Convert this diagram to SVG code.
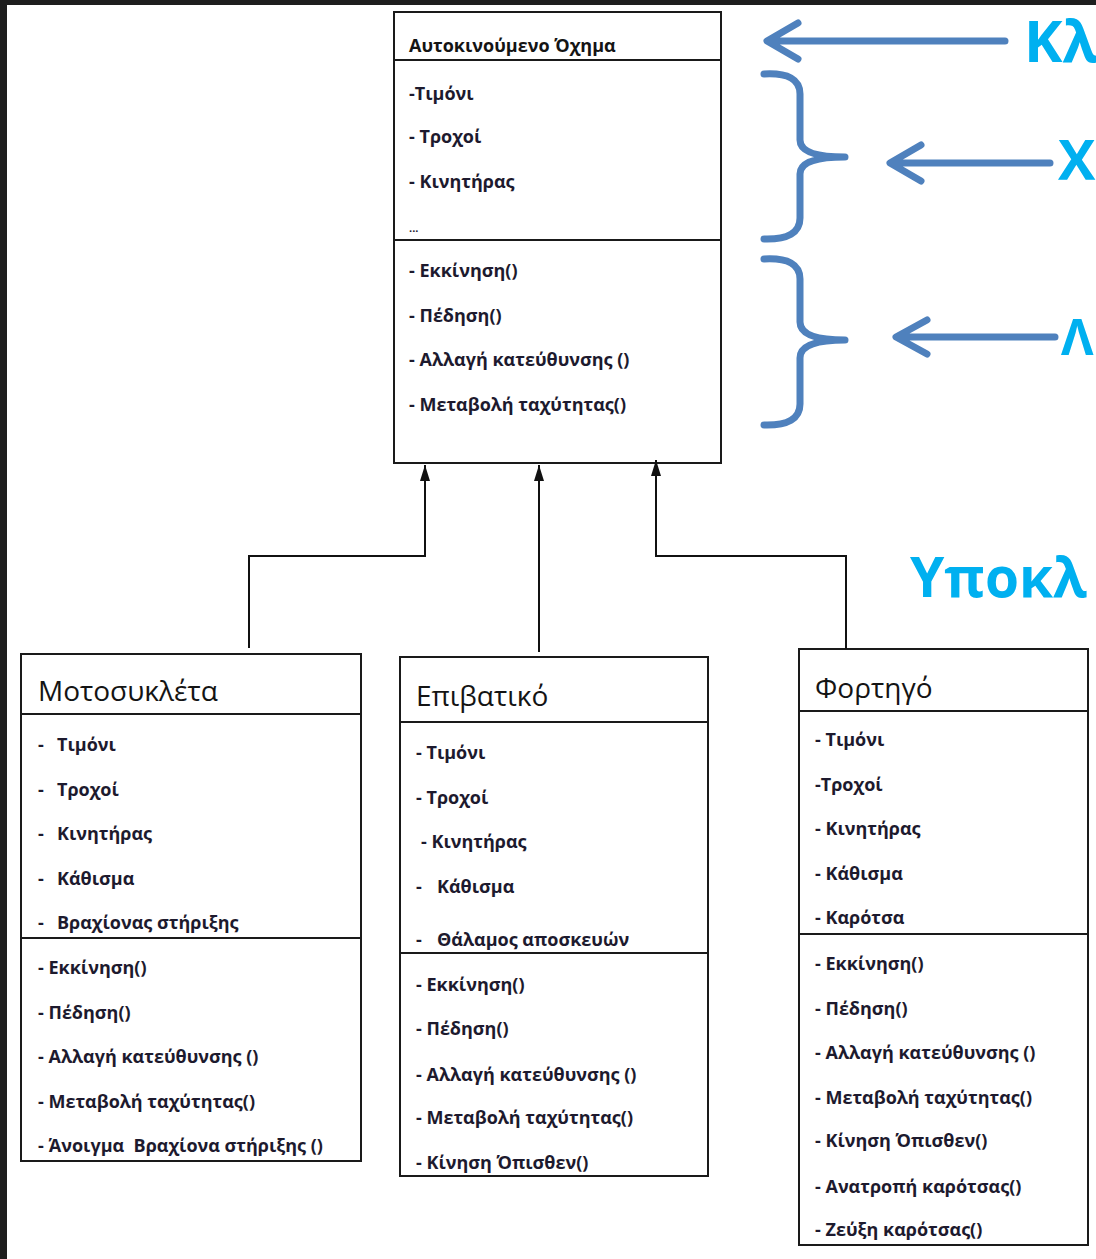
<svg xmlns="http://www.w3.org/2000/svg" width="1096" height="1259" viewBox="0 0 1096 1259">
<defs>
<style>
.bg{fill:#1e1e1e}
.box{fill:#ffffff;stroke:#1a1a1a;stroke-width:2}
.ln{stroke:#1a1a1a;stroke-width:2;fill:none}
.it{font-family:"Open Sans","Noto Sans",sans-serif;font-weight:700;font-size:18px;fill:#1d1a2e;white-space:pre}
.hd{font-family:"Open Sans","Noto Sans",sans-serif;font-weight:400;font-size:28px;fill:#141414}
.th{font-family:"Open Sans","Noto Sans",sans-serif;font-weight:700;font-size:18px;fill:#141414}
.conn{stroke:#111;stroke-width:2;fill:none}
.blue{stroke:#4f81bd;stroke-width:7;fill:none;stroke-linecap:round;stroke-linejoin:round}
.lbl{font-family:"Open Sans","Noto Sans",sans-serif;font-weight:700;fill:#00b0f0}
</style>
<marker id="ah" viewBox="0 0 16 10" refX="16" refY="5" markerWidth="16" markerHeight="10" markerUnits="userSpaceOnUse" orient="auto">
<path d="M0,0 L16,5 L0,10 Z" fill="#111"/>
</marker>
</defs>
<rect class="bg" x="0" y="0" width="1096" height="1259"/>
<rect x="7" y="5" width="1089" height="1254" fill="#ffffff"/>

<g id="vehicle">
<rect class="box" x="394" y="12" width="327" height="451"/>
<line class="ln" x1="394" y1="60" x2="721" y2="60"/>
<line class="ln" x1="394" y1="240" x2="721" y2="240"/>
<text class="th" x="409" y="52">Αυτοκινούμενο Όχημα</text>
<text class="it" x="409" y="100">-Τιμόνι</text>
<text class="it" x="409" y="143">- Τροχοί</text>
<text class="it" x="409" y="188">- Κινητήρας</text>
<text class="it" x="409" y="232" style="font-size:11px">...</text>
<text class="it" x="409" y="277">- Εκκίνηση()</text>
<text class="it" x="409" y="322">- Πέδηση()</text>
<text class="it" x="409" y="366">- Αλλαγή κατεύθυνσης ()</text>
<text class="it" x="409" y="411">- Μεταβολή ταχύτητας()</text>
</g>

<g id="motorcycle">
<rect class="box" x="21" y="654" width="340" height="507"/>
<line class="ln" x1="21" y1="714" x2="361" y2="714"/>
<line class="ln" x1="21" y1="938" x2="361" y2="938"/>
<text class="hd" x="38" y="701">Μοτοσυκλέτα</text>
<text class="it" x="38" y="751">-<tspan x="57">Τιμόνι</tspan></text>
<text class="it" x="38" y="796">-<tspan x="57">Τροχοί</tspan></text>
<text class="it" x="38" y="840">-<tspan x="57">Κινητήρας</tspan></text>
<text class="it" x="38" y="885">-<tspan x="57">Κάθισμα</tspan></text>
<text class="it" x="38" y="929">-<tspan x="57">Βραχίονας στήριξης</tspan></text>
<text class="it" x="38" y="974">- Εκκίνηση()</text>
<text class="it" x="38" y="1019">- Πέδηση()</text>
<text class="it" x="38" y="1063">- Αλλαγή κατεύθυνσης ()</text>
<text class="it" x="38" y="1108">- Μεταβολή ταχύτητας()</text>
<text class="it" x="38" y="1152">- Άνοιγμα  Βραχίονα στήριξης ()</text>
</g>

<g id="car">
<rect class="box" x="400" y="657" width="308" height="519"/>
<line class="ln" x1="400" y1="722" x2="708" y2="722"/>
<line class="ln" x1="400" y1="953" x2="708" y2="953"/>
<text class="hd" x="416" y="706">Επιβατικό</text>
<text class="it" x="416" y="759">- Τιμόνι</text>
<text class="it" x="416" y="804">- Τροχοί</text>
<text class="it" x="421" y="848">- Κινητήρας</text>
<text class="it" x="416" y="893">-<tspan x="437">Κάθισμα</tspan></text>
<text class="it" x="416" y="946">-<tspan x="437">Θάλαμος αποσκευών</tspan></text>
<text class="it" x="416" y="991">- Εκκίνηση()</text>
<text class="it" x="416" y="1035">- Πέδηση()</text>
<text class="it" x="416" y="1081">- Αλλαγή κατεύθυνσης ()</text>
<text class="it" x="416" y="1124">- Μεταβολή ταχύτητας()</text>
<text class="it" x="416" y="1169">- Κίνηση Όπισθεν()</text>
</g>

<g id="truck">
<rect class="box" x="799" y="649" width="289" height="596"/>
<line class="ln" x1="799" y1="711" x2="1088" y2="711"/>
<line class="ln" x1="799" y1="934" x2="1088" y2="934"/>
<text class="hd" x="815" y="698">Φορτηγό</text>
<text class="it" x="815" y="746">- Τιμόνι</text>
<text class="it" x="815" y="791">-Τροχοί</text>
<text class="it" x="815" y="835">- Κινητήρας</text>
<text class="it" x="815" y="880">- Κάθισμα</text>
<text class="it" x="815" y="924">- Καρότσα</text>
<text class="it" x="815" y="970">- Εκκίνηση()</text>
<text class="it" x="815" y="1015">- Πέδηση()</text>
<text class="it" x="815" y="1059">- Αλλαγή κατεύθυνσης ()</text>
<text class="it" x="815" y="1104">- Μεταβολή ταχύτητας()</text>
<text class="it" x="815" y="1147">- Κίνηση Όπισθεν()</text>
<text class="it" x="815" y="1193">- Ανατροπή καρότσας()</text>
<text class="it" x="815" y="1236">- Ζεύξη καρότσας()</text>
</g>

<g id="connectors">
<polyline class="conn" points="249,648 249,556 425,556 425,465" marker-end="url(#ah)"/>
<polyline class="conn" points="539,652 539,465" marker-end="url(#ah)"/>
<polyline class="conn" points="846,649 846,556 656,556 656,460" marker-end="url(#ah)"/>
</g>

<g id="annotations">
<path class="blue" d="M1005,41 L768,41 M798,23 L767,41 L798,59"/>
<path class="blue" d="M1050,163 L891,163 M921,145 L890,163 L921,181"/>
<path class="blue" d="M1055,337 L897,337 M927,320 L896,337 L927,354"/>
<path class="blue" d="M764,74 Q800,72 800,94 L800,140 Q800,157 845,157 Q800,157 800,174 L800,218 Q800,240 764,239"/>
<path class="blue" d="M764,259 Q800,257 800,279 L800,322 Q800,340 845,340 Q800,340 800,358 L800,404 Q800,426 764,425"/>
<text class="lbl" x="1024" y="62" style="font-size:58px">Κλ</text>
<text class="lbl" x="1058" y="180" style="font-size:56px">Χ</text>
<text class="lbl" x="1061" y="355" style="font-size:50px">Λ</text>
<text class="lbl" x="910" y="597" style="font-size:55px">Υποκλ</text>
</g>
</svg>
